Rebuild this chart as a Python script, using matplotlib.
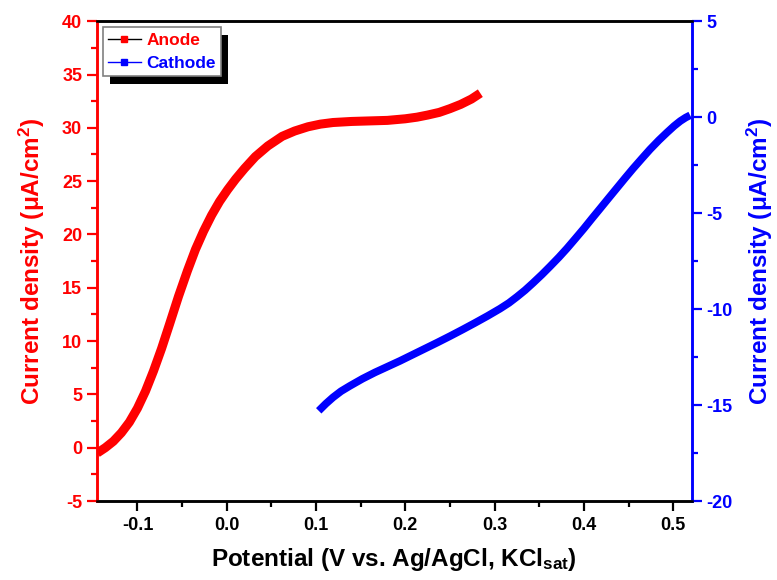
import matplotlib
matplotlib.use("Agg")
import matplotlib.pyplot as plt
from matplotlib.lines import Line2D
from matplotlib.patches import Rectangle
from matplotlib.ticker import MultipleLocator

plt.rcParams['font.family'] = ['Liberation Sans', 'DejaVu Sans']
plt.rcParams['font.weight'] = 'bold'
plt.rcParams['axes.unicode_minus'] = False
plt.rcParams['mathtext.fontset'] = 'custom'
plt.rcParams['mathtext.rm'] = 'Liberation Sans:bold'
plt.rcParams['mathtext.bf'] = 'Liberation Sans:bold'
plt.rcParams['mathtext.it'] = 'Liberation Sans:bold'

# anode curve (left axis)
anode_v = [-0.145, -0.136, -0.127, -0.118, -0.109, -0.100, -0.091, -0.082,
           -0.073, -0.064, -0.054, -0.044, -0.035, -0.026, -0.017, -0.008,
           0.001, 0.010, 0.020, 0.032, 0.046, 0.062, 0.076, 0.091, 0.105,
           0.119, 0.140, 0.160, 0.180, 0.200, 0.213, 0.225, 0.238, 0.250,
           0.262, 0.274, 0.284]
anode_j = [-0.5, 0.0, 0.6, 1.4, 2.4, 3.7, 5.3, 7.2,
           9.3, 11.6, 14.2, 16.6, 18.6, 20.3, 21.8, 23.1,
           24.2, 25.2, 26.2, 27.3, 28.3, 29.2, 29.7, 30.1, 30.35,
           30.5, 30.6, 30.65, 30.7, 30.85, 31.0, 31.2, 31.45, 31.8,
           32.2, 32.7, 33.25]

# cathode curve (right axis)
cathode_v = [0.103, 0.111, 0.119, 0.128, 0.138, 0.152, 0.166, 0.180, 0.194,
             0.208, 0.222, 0.236, 0.250, 0.264, 0.278, 0.292, 0.306, 0.316,
             0.325, 0.334, 0.343, 0.353, 0.362, 0.372, 0.381, 0.390, 0.400,
             0.409, 0.418, 0.428, 0.437, 0.446, 0.455, 0.465, 0.474, 0.484,
             0.493, 0.501, 0.508, 0.514, 0.519]
cathode_j = [-15.3, -14.93, -14.6, -14.28, -14.0, -13.63, -13.3, -13.0, -12.7,
             -12.38, -12.06, -11.74, -11.41, -11.07, -10.72, -10.36, -9.98, -9.68,
             -9.36, -9.02, -8.64, -8.2, -7.78, -7.3, -6.84, -6.35, -5.8,
             -5.28, -4.77, -4.2, -3.69, -3.18, -2.68, -2.15, -1.68, -1.2,
             -0.8, -0.46, -0.2, -0.02, 0.1]

left_ticks = [-5, 0, 5, 10, 15, 20, 25, 30, 35, 40]
right_ticks = [-20, -15, -10, -5, 0, 5]
x_ticks = [-0.1, 0.0, 0.1, 0.2, 0.3, 0.4, 0.5]

fig = plt.figure(figsize=(7.77, 5.80), dpi=100)
ax = fig.add_axes([0.1245, 0.1362, 0.7657, 0.8272])
ax2 = ax.twinx()

ax.plot(anode_v, anode_j, color='red', lw=6.5, solid_capstyle='butt',
        solid_joinstyle='round')
ax2.plot(cathode_v, cathode_j, color='blue', lw=5.5, solid_capstyle='butt',
         solid_joinstyle='round')

ax.set_xlim(-0.1456, 0.5207)
ax.set_ylim(-5, 40)
ax2.set_ylim(-20, 5)

ax.set_xticks(x_ticks)
ax.set_xticklabels(['%.1f' % t for t in x_ticks])
ax.xaxis.set_minor_locator(MultipleLocator(0.05))
ax.set_yticks(left_ticks)
ax.yaxis.set_minor_locator(MultipleLocator(2.5))
ax2.set_yticks(right_ticks)
ax2.yaxis.set_minor_locator(MultipleLocator(2.5))

for a in (ax, ax2):
    for s in a.spines.values():
        s.set_linewidth(1.8)
ax.spines['left'].set_color('red')
ax2.spines['left'].set_color('red')
ax2.spines['right'].set_color('blue')
ax.spines['right'].set_color('blue')

ax.tick_params(axis='x', which='major', length=7.5, width=1.6, pad=4,
               labelsize=13, direction='out', top=False)
ax.tick_params(axis='x', which='minor', length=4, width=1.6, direction='out', top=False)
ax.tick_params(axis='y', which='major', length=7.5, width=1.6, pad=3,
               labelsize=13, colors='red', direction='out')
ax.tick_params(axis='y', which='minor', length=4, width=1.6, colors='red', direction='out')
ax2.tick_params(axis='y', which='major', length=7.5, width=1.6, pad=3,
                labelsize=13, colors='blue', direction='out')
ax2.tick_params(axis='y', which='minor', length=4, width=1.6, colors='blue', direction='out')
for lab in ax.get_xticklabels() + ax.get_yticklabels() + ax2.get_yticklabels():
    lab.set_fontweight('bold')

ax.set_xlabel(r'Potential (V vs. Ag/AgCl, KCl$_{\mathrm{sat}}$)', fontsize=17.5,
              fontweight='bold', labelpad=8.5)
ax.set_ylabel(r'Current density ($\mathrm{\mu}$A/cm$^{\mathrm{2}}$)', fontsize=17.5,
              fontweight='bold', color='red', labelpad=11)
ax2.set_ylabel(r'Current density ($\mathrm{\mu}$A/cm$^{\mathrm{2}}$)', fontsize=17.5,
               fontweight='bold', color='blue', labelpad=9)

handles = [Line2D([], [], color='black', lw=1, marker='s', ms=5, mfc='red', mec='red'),
           Line2D([], [], color='blue', lw=1, marker='s', ms=5, mfc='blue', mec='blue')]
leg = ax2.legend(handles, ['Anode', 'Cathode'], loc='upper left',
                 bbox_to_anchor=(0.010, 0.987), fontsize=12.5, frameon=True,
                 fancybox=False, edgecolor='gray', framealpha=1,
                 handlelength=1.9, handletextpad=0.3, borderpad=0.3,
                 labelspacing=0.45, borderaxespad=0)
leg.get_frame().set_linewidth(1.2)
for t, c in zip(leg.get_texts(), ['red', 'blue']):
    t.set_color(c)
    t.set_fontweight('bold')

# black drop shadow behind the legend box
fig.canvas.draw()
bb = leg.get_window_extent().transformed(fig.transFigure.inverted())
shadow = Rectangle((bb.x0 + 7 / 777, bb.y0 - 8 / 580), bb.width, bb.height,
                   transform=fig.transFigure, facecolor='black', edgecolor='none',
                   zorder=leg.get_zorder() - 0.5)
ax2.add_artist(shadow)
shadow.set_clip_on(False)

fig.savefig('out.png', dpi=100)
